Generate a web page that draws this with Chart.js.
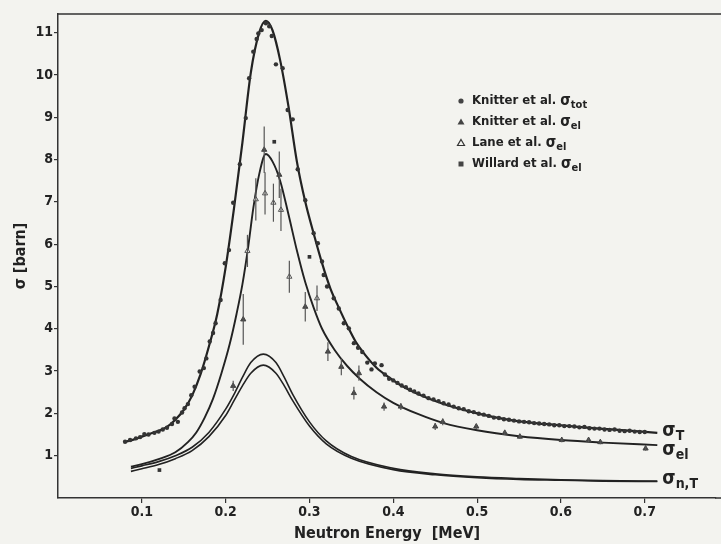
<!DOCTYPE html>
<html>
<head>
<meta charset="utf-8">
<script src="https://cdn.jsdelivr.net/npm/chart.js@4.4.1/dist/chart.umd.min.js"></script>
<style>
html,body{margin:0;padding:0;background:#f3f3ef;}
#wrap{width:721px;height:544px;}
</style>
</head>
<body>
<div id="wrap"><canvas id="c" width="721" height="544"></canvas></div>
<script>
// ---------- Data ----------
const xTicks = [0.1, 0.2, 0.3, 0.4, 0.5, 0.6, 0.7];
const yTicks = [1, 2, 3, 4, 5, 6, 7, 8, 9, 10, 11];

// fitted curves: sigma_T, sigma_el, sigma_n,T (two variants)
const curveTE = [0.080,0.09,0.10,0.11,0.12,0.13,0.14,0.15,0.16,0.17,0.18,0.19,0.20,0.21,0.22,0.23,0.24,0.248,0.256,0.265,0.275,0.285,0.295,0.305,0.315,0.325,0.335,0.345,0.355,0.365,0.38,0.395,0.41,0.43,0.46,0.50,0.54,0.58,0.62,0.66,0.715];
const curveTS = [1.33,1.38,1.45,1.52,1.59,1.68,1.85,2.08,2.42,2.92,3.58,4.35,5.45,6.85,8.4,10.05,11.0,11.28,11.05,10.35,9.25,7.95,7.0,6.25,5.55,4.95,4.5,4.08,3.7,3.42,3.08,2.85,2.65,2.45,2.22,2.0,1.84,1.75,1.68,1.62,1.54];

const curveElE = [0.087,0.10,0.12,0.14,0.155,0.165,0.175,0.185,0.195,0.205,0.213,0.22,0.227,0.233,0.24,0.248,0.256,0.265,0.275,0.285,0.295,0.305,0.315,0.33,0.345,0.36,0.38,0.40,0.43,0.46,0.50,0.55,0.60,0.65,0.715];
const curveElS = [0.74,0.80,0.92,1.08,1.32,1.55,1.9,2.35,2.95,3.65,4.35,5.05,5.95,6.85,7.65,8.13,7.95,7.5,6.7,5.85,5.1,4.5,4.0,3.5,3.12,2.82,2.5,2.25,1.98,1.77,1.6,1.46,1.37,1.31,1.25];

const curveNtE = [0.087,0.10,0.12,0.14,0.16,0.18,0.20,0.21,0.22,0.23,0.245,0.26,0.27,0.28,0.30,0.32,0.35,0.40,0.45,0.50,0.55,0.60,0.65,0.715];
const curveNt1S = [0.70,0.76,0.86,1.0,1.2,1.55,2.1,2.45,2.85,3.2,3.40,3.2,2.85,2.45,1.8,1.35,0.98,0.70,0.57,0.50,0.46,0.43,0.41,0.40];
const curveNt2S = [0.63,0.69,0.79,0.93,1.12,1.45,1.95,2.3,2.65,2.95,3.14,2.95,2.65,2.3,1.7,1.28,0.94,0.67,0.55,0.48,0.44,0.42,0.40,0.39];

// Knitter et al. total cross section
const totE = [0.080,0.086,0.093,0.098,0.103,0.108,0.115,0.120,0.125,0.130,0.136,0.139,0.143,0.148,0.151,0.155,0.159,0.163,0.169,0.174,0.177,0.181,0.185,0.188,0.194,0.199,0.204,0.209,0.217,0.224,0.228,0.233,0.237,0.239,0.243,0.248,0.252,0.255,0.260,0.268,0.274,0.280,0.286,0.295,0.305,0.310,0.315,0.317,0.321,0.329,0.335,0.341,0.347,0.353,0.358,0.363,0.369,0.374,0.378,0.386,0.390,0.395,0.400,0.405,0.410,0.415,0.420,0.425,0.430,0.436,0.442,0.448,0.454,0.460,0.466,0.472,0.478,0.484,0.490,0.496,0.502,0.508,0.514,0.520,0.526,0.532,0.538,0.544,0.550,0.556,0.562,0.568,0.574,0.580,0.586,0.592,0.598,0.604,0.610,0.616,0.622,0.628,0.634,0.640,0.646,0.652,0.658,0.664,0.670,0.676,0.682,0.688,0.694,0.700];
const totS = [1.33,1.37,1.41,1.44,1.51,1.50,1.54,1.57,1.62,1.66,1.75,1.88,1.80,2.02,2.12,2.22,2.43,2.63,2.99,3.07,3.30,3.70,3.90,4.13,4.68,5.55,5.86,6.98,7.89,8.98,9.92,10.55,10.85,10.98,11.06,11.22,11.15,10.92,10.25,10.16,9.17,8.95,7.77,7.04,6.26,6.02,5.59,5.27,5.00,4.72,4.48,4.13,4.01,3.66,3.55,3.45,3.20,3.04,3.18,3.14,2.92,2.82,2.78,2.72,2.66,2.62,2.56,2.52,2.47,2.42,2.36,2.33,2.29,2.24,2.21,2.16,2.12,2.10,2.05,2.03,1.99,1.97,1.94,1.90,1.89,1.86,1.85,1.83,1.81,1.80,1.79,1.77,1.76,1.75,1.74,1.72,1.72,1.70,1.70,1.69,1.67,1.68,1.65,1.64,1.64,1.62,1.61,1.62,1.59,1.58,1.59,1.57,1.56,1.56];

// Knitter et al. elastic (with errors)
const knElE = [0.209,0.221,0.246,0.264,0.295,0.322,0.338,0.353,0.359,0.389,0.409,0.450,0.459,0.499,0.533,0.551,0.601,0.633,0.647,0.701];
const knElS = [2.65,4.22,8.23,7.64,4.52,3.46,3.10,2.48,2.95,2.16,2.16,1.69,1.80,1.69,1.54,1.45,1.37,1.37,1.32,1.17];
const knElErr = [0.12,0.6,0.55,0.55,0.35,0.22,0.2,0.15,0.18,0.1,0.08,0.08,0.08,0.06,0.05,0.05,0.05,0.05,0.05,0.05];

// Lane et al. elastic
const laneE = [0.226,0.236,0.247,0.257,0.266,0.276,0.309];
const laneS = [5.84,7.06,7.20,6.98,6.81,5.23,4.72];
const laneErr = [0.38,0.5,0.5,0.45,0.5,0.38,0.3];

// Willard et al. elastic
const willE = [0.121,0.258,0.300];
const willS = [0.66,8.42,5.70];

// ---------- Helpers ----------
const FONT = "'Liberation Sans Narrow','DejaVu Sans Condensed','Arial Narrow',sans-serif";
const INK = '#222';
const pts = (xs, ys) => xs.map((x, i) => ({x, y: ys[i]}));

function sigma(ctx, x, y, sub, size){
  ctx.font = `bold ${size}px ${FONT}`;
  ctx.fillText('σ', x, y);
  const w = ctx.measureText('σ').width;
  ctx.font = `bold ${Math.round(size*0.72)}px ${FONT}`;
  ctx.fillText(sub, x + w, y + size*0.3);
}

function curve(data, width){
  return { data, showLine: true, pointRadius: 0, borderColor: INK, borderWidth: width,
           cubicInterpolationMode: 'monotone', fill: false, order: 2 };
}

// ---------- Plugins ----------
// paper colour plus the frame: top rule and the x axis run to the page edge
const paper = {
  id: 'paper',
  beforeDraw(chart){
    const {ctx, width, height, chartArea:{left, right, top, bottom}} = chart;
    ctx.save();
    ctx.fillStyle = '#f3f3ef';
    ctx.fillRect(0, 0, width, height);
    ctx.strokeStyle = '#333';
    ctx.lineWidth = 1.5;
    ctx.beginPath();
    ctx.moveTo(left, top);
    ctx.lineTo(width, top);
    ctx.moveTo(right - 1, bottom);
    ctx.lineTo(width, bottom);
    ctx.stroke();
    ctx.restore();
  }
};

// vertical error bars for datasets that carry an errs array
const errorBars = {
  id: 'errorBars',
  afterDatasetsDraw(chart){
    const {ctx} = chart;
    const ys = chart.scales.y;
    chart.data.datasets.forEach((ds, i) => {
      if (!ds.errs) return;
      chart.getDatasetMeta(i).data.forEach((p, j) => {
        const v = ds.data[j].y, e = ds.errs[j];
        ctx.save();
        ctx.strokeStyle = '#555';
        ctx.lineWidth = 1.2;
        ctx.beginPath();
        ctx.moveTo(p.x, ys.getPixelForValue(v - e));
        ctx.lineTo(p.x, ys.getPixelForValue(v + e));
        ctx.stroke();
        ctx.restore();
      });
    });
  }
};

// curve names at the right end of each fitted line
const curveNames = {
  id: 'curveNames',
  afterDatasetsDraw(chart){
    const {ctx} = chart;
    const named = [[0, 'T', -2], [1, 'el', 5], [2, 'n,T', -2]];
    ctx.save();
    ctx.fillStyle = INK;
    ctx.textBaseline = 'middle';
    named.forEach(([i, sub, dy]) => {
      const d = chart.getDatasetMeta(i).data;
      const last = d[d.length - 1];
      sigma(ctx, last.x + 5, last.y + dy, sub, 19);
    });
    ctx.restore();
  }
};

const legendNames = ['Knitter et al. ', 'Knitter et al. ', 'Lane et al. ', 'Willard et al. '];
const legendSubs = ['tot', 'el', 'el', 'el'];
const legendBox = {
  id: 'legendBox',
  afterDraw(chart){
    const {ctx} = chart;
    const marks = ['circle', 'triangle', 'triangle', 'rect'];
    const fills = [true, true, false, true];
    ctx.save();
    ctx.textBaseline = 'middle';
    legendNames.forEach((name, k) => {
      const y = 101 + k * 21;
      ctx.fillStyle = '#444';
      ctx.strokeStyle = '#333';
      ctx.lineWidth = 1.2;
      ctx.beginPath();
      if (marks[k] === 'circle') ctx.arc(461, y, 2.6, 0, Math.PI*2);
      else if (marks[k] === 'rect') ctx.rect(458.5, y-2.5, 5, 5);
      else { ctx.moveTo(461, y-3.5); ctx.lineTo(464.5, y+2.5); ctx.lineTo(457.5, y+2.5); ctx.closePath(); }
      if (fills[k]) ctx.fill();
      else { ctx.fillStyle = '#f3f3ef'; ctx.fill(); ctx.stroke(); }
      ctx.fillStyle = INK;
      ctx.font = `bold 13px ${FONT}`;
      ctx.fillText(name, 472, y);
      const w = ctx.measureText(name).width;
      sigma(ctx, 472 + w, y, legendSubs[k], 15);
    });
    ctx.restore();
  }
};

// ---------- Chart ----------
new Chart(document.getElementById('c'), {
  type: 'scatter',
  data: {
    datasets: [
      curve(pts(curveTE, curveTS), 2.2),
      curve(pts(curveElE, curveElS), 1.9),
      curve(pts(curveNtE, curveNt1S), 1.6),
      curve(pts(curveNtE, curveNt2S), 1.6),
      { data: pts(totE, totS), pointStyle: 'circle', pointRadius: 2.2, backgroundColor: '#333', borderWidth: 0, order: 1 },
      { data: pts(knElE, knElS), errs: knElErr, pointStyle: 'triangle', pointRadius: 3, backgroundColor: '#444', borderColor: '#444', borderWidth: 1, order: 1 },
      { data: pts(laneE, laneS), errs: laneErr, pointStyle: 'triangle', pointRadius: 3, backgroundColor: '#f3f3ef', borderColor: '#555', borderWidth: 1, order: 1 },
      { data: pts(willE, willS), pointStyle: 'rect', pointRadius: 2.6, backgroundColor: '#333', borderWidth: 0, order: 1 }
    ]
  },
  options: {
    responsive: false,
    animation: false,
    layout: { padding: { top: 14, left: 0, right: 0, bottom: 0 } },
    plugins: { legend: { display: false }, tooltip: { enabled: false } },
    scales: {
      x: {
        type: 'linear', min: 0, max: 0.785,
        afterFit: s => { s.height = 46; },
        afterBuildTicks: s => { s.ticks = xTicks.map(v => ({value: v})); },
        grid: { drawOnChartArea: false, tickLength: 5, color: '#333', lineWidth: 1.2 },
        border: { display: true, color: '#333', width: 1.5 },
        ticks: { color: INK, padding: 1, font: { family: FONT, size: 14, weight: 'bold' }, callback: v => v.toFixed(1) },
        title: { display: true, text: 'Neutron Energy  [MeV]', color: INK, padding: { top: 0, bottom: 1 }, font: { family: FONT, size: 16, weight: 'bold' } }
      },
      y: {
        type: 'linear', min: 0, max: 11.44,
        afterFit: s => { s.width = 58; },
        afterBuildTicks: s => { s.ticks = yTicks.map(v => ({value: v})); },
        grid: { drawOnChartArea: false, tickLength: 4, color: '#333', lineWidth: 1.2 },
        border: { display: true, color: '#333', width: 1.5 },
        ticks: { color: INK, padding: 1, font: { family: FONT, size: 14, weight: 'bold' } },
        title: { display: true, text: 'σ [barn]', color: INK, padding: { top: 11, bottom: 0 }, font: { family: FONT, size: 16, weight: 'bold' } }
      }
    }
  },
  plugins: [paper, errorBars, curveNames, legendBox]
});
</script>
</body>
</html>
